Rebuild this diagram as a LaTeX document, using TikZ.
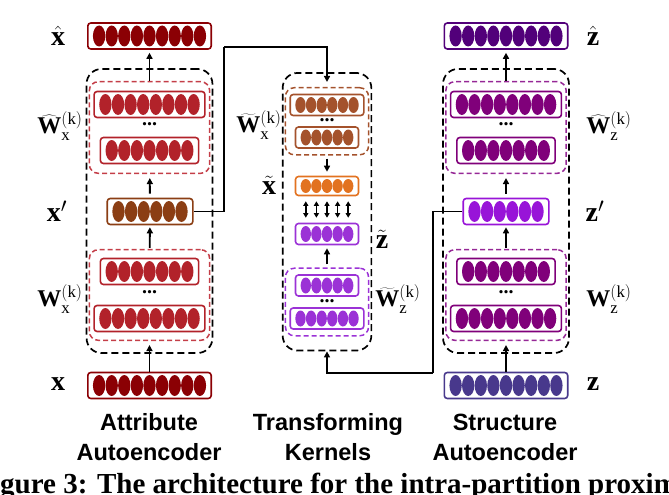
\documentclass[tikz,border=0pt]{standalone}
\usepackage{fontspec}
\setmainfont{Liberation Serif}
\newfontfamily\titlefont{Liberation Sans}
\usetikzlibrary{arrows.meta,calc,fit}

\definecolor{attrio}{RGB}{139,0,4}
\definecolor{attrrow}{RGB}{178,34,42}
\definecolor{attrdash}{RGB}{196,62,72}
\definecolor{attrcode}{RGB}{139,62,20}
\definecolor{kernrow}{RGB}{164,82,44}
\definecolor{kernx}{RGB}{226,114,32}
\definecolor{kernz}{RGB}{155,50,214}
\definecolor{structout}{RGB}{82,0,122}
\definecolor{structrow}{RGB}{128,0,122}
\definecolor{structdash}{RGB}{150,40,150}
\definecolor{structcode}{RGB}{152,20,216}
\definecolor{structin}{RGB}{72,56,140}

% a layer of neurons: name, centre, count, colour, pitch, half height
\newcommand{\layer}[6]{%
  \node[layerbox=#4, minimum width={(#3*#5+10)*1pt}, minimum height={(2*#6+5)*1pt}] (#1) at (#2) {};
  \foreach \i in {1,...,#3}
    \fill[#4] ($(#1.center)+({(\i-(#3+1)/2)*#5},0)$) ellipse [x radius={0.49*#5*1pt}, y radius={#6*1pt}];
}

\begin{document}
\begin{tikzpicture}
[x=1pt,y=-1pt,%
  layerbox/.style={draw=#1,line width=1.6pt,rounded corners=3pt,inner sep=0pt},%
  subdash/.style={draw=#1,dashed,dash pattern=on 5pt off 3pt,line width=1.5pt,rounded corners=9pt,inner xsep=4pt},%
  blockdash/.style={draw,dashed,dash pattern=on 7pt off 4pt,line width=1.7pt,rounded corners=15pt,inner xsep=2pt,inner ysep=12pt},%
  conn/.style={line width=1.8pt,-{Triangle[length=6pt,width=6pt]}},%
  dbl/.style={line width=1.5pt,{Triangle[length=4.5pt,width=5pt]}-{Triangle[length=4.5pt,width=5pt]}},%
  dots/.style={inner sep=0pt,font=\bfseries\fontsize{20}{20}\selectfont},%
  lab/.style={inner sep=0pt,font=\fontsize{28}{30}\selectfont},%
  wlab/.style={inner sep=0pt,font=\fontsize{24}{26}\selectfont},%
  title/.style={inner sep=0pt,align=center,font=\titlefont\bfseries\fontsize{23.5}{30}\selectfont},%
  capt/.style={inner sep=0pt,font=\bfseries\fontsize{29}{32}\selectfont}]
\useasboundingbox (0,0) rectangle (669,495);

% attribute autoencoder
\layer{xhat}{149.5,36}{9}{attrio}{12.6}{10.5}
\layer{xdec1}{149.5,104.5}{8}{attrrow}{12.6}{10.5}
\layer{xdec2}{149.5,150.5}{7}{attrrow}{12.6}{10.5}
\layer{xcode}{150,211.5}{6}{attrcode}{12.6}{10.5}
\layer{xenc1}{149.5,271.5}{7}{attrrow}{12.6}{10.5}
\layer{xenc2}{149.5,318.5}{8}{attrrow}{12.6}{10.5}
\layer{x}{149.5,385.5}{9}{attrio}{12.6}{10.5}
\node[subdash=attrdash,inner ysep=9pt,fit=(xdec1)(xdec2)] (xdecbox) {};
\node[subdash=attrdash,inner ysep=8pt,fit=(xenc1)(xenc2)] (xencbox) {};
\node[blockdash,fit=(xdecbox)(xencbox)] (xbox) {};
\path (xdec1) -- (xdec2) node[dots,midway,yshift=3pt] (xdots) {...};
\path (xenc1) -- (xenc2) node[dots,midway,yshift=3pt] (xdots2) {...};

% transforming kernels
\layer{kdec1}{327,105}{6}{kernrow}{10.6}{8}
\layer{kdec2}{327,137.5}{5}{kernrow}{10.6}{8}
\layer{xtil}{327,186}{5}{kernx}{10.6}{7}
\layer{ztil}{327,234}{5}{kernz}{10.6}{8}
\layer{kenc1}{327,285.5}{5}{kernz}{10.6}{8}
\layer{kenc2}{327,318.5}{6}{kernz}{10.6}{8}
\node[subdash=kernrow,inner ysep=6pt,fit=(kdec1)(kdec2)] (kdecbox) {};
\node[subdash=kernz,inner ysep=6pt,fit=(kenc1)(kenc2)] (kencbox) {};
\node[blockdash,inner ysep=14pt,fit=(kdecbox)(kencbox)] (kbox) {};
\path (kdec1) -- (kdec2) node[dots,midway,yshift=1pt] (kdots) {...};
\path (kenc1) -- (kenc2) node[dots,midway,yshift=1pt] (kdots2) {...};

% structure autoencoder
\layer{zhat}{506,36}{9}{structout}{12.6}{10.5}
\layer{zdec1}{506,104.5}{8}{structrow}{12.6}{10.5}
\layer{zdec2}{506,150.5}{7}{structrow}{12.6}{10.5}
\layer{zcode}{506,211.5}{6}{structcode}{12.6}{10.5}
\layer{zenc1}{506,271.5}{7}{structrow}{12.6}{10.5}
\layer{zenc2}{506,318.5}{8}{structrow}{12.6}{10.5}
\layer{z}{506,385.5}{9}{structin}{12.6}{10.5}
\node[subdash=structdash,inner ysep=9pt,fit=(zdec1)(zdec2)] (zdecbox) {};
\node[subdash=structdash,inner ysep=8pt,fit=(zenc1)(zenc2)] (zencbox) {};
\node[blockdash,fit=(zdecbox)(zencbox)] (zbox) {};
\path (zdec1) -- (zdec2) node[dots,midway,yshift=3pt] (zdots) {...};
\path (zenc1) -- (zenc2) node[dots,midway,yshift=3pt] (zdots2) {...};

% arrows inside the columns
\draw[conn,shorten >=4pt] (x) -- (xencbox);
\draw[conn,shorten <=1pt,shorten >=2pt] (xencbox) -- (xcode);
\draw[conn,shorten <=4pt,shorten >=4pt] (xcode) -- (xdecbox);
\draw[conn,shorten >=3pt] (xdecbox) -- (xhat);
\draw[conn,shorten >=4pt] (z) -- (zencbox);
\draw[conn,shorten <=1pt,shorten >=2pt] (zencbox) -- (zcode);
\draw[conn,shorten <=4pt,shorten >=4pt] (zcode) -- (zdecbox);
\draw[conn,shorten >=3pt] (zdecbox) -- (zhat);
\draw[conn,shorten <=3pt,shorten >=4pt] (kdecbox) -- (xtil);
\draw[conn,shorten <=3pt,shorten >=3pt] (kencbox) -- (ztil);
\foreach \k in {1,...,5}
  \draw[dbl] ($(xtil.south)+({(\k-3)*10.6},5)$) -- ($(ztil.north)+({(\k-3)*10.6},-5)$);

% links between the columns
\coordinate (bendx) at (224,47);
\coordinate (bendz) at (433,373);
\draw[line width=1.8pt] (xcode.east) -| (bendx);
\draw[conn,shorten >=5pt] (bendx) -| (kdecbox.north);
\draw[line width=1.8pt] (zcode.west) -| (bendz);
\draw[conn] (bendz) -| (kbox.south);

% labels
\node[lab] (lxhat) at (58,36) {$\hat{\mathbf{x}}$};
\node[wlab] (lxdec) at (60,126) {$\widehat{\mathbf{W}}_{\mathrm{x}}^{(\mathrm{k})}$};
\node[lab] (lxcode) at (57,211) {$\mathbf{x}'$};
\node[wlab] (lxenc) at (60,299) {$\mathbf{W}_{\mathrm{x}}^{(\mathrm{k})}$};
\node[lab] (lx) at (58,384) {$\mathbf{x}$};
\node[wlab] (lkdec) at (259,125) {$\widetilde{\mathbf{W}}_{\mathrm{x}}^{(\mathrm{k})}$};
\node[lab] (lxtil) at (269,185) {$\tilde{\mathbf{x}}$};
\node[lab] (lztil) at (382,239) {$\tilde{\mathbf{z}}$};
\node[wlab] (lkenc) at (398,299) {$\widetilde{\mathbf{W}}_{\mathrm{z}}^{(\mathrm{k})}$};
\node[lab] (lzhat) at (593,36) {$\hat{\mathbf{z}}$};
\node[wlab] (lzdec) at (609,126) {$\widehat{\mathbf{W}}_{\mathrm{z}}^{(\mathrm{k})}$};
\node[lab] (lzcode) at (595,211) {$\mathbf{z}'$};
\node[wlab] (lzenc) at (609,299) {$\mathbf{W}_{\mathrm{z}}^{(\mathrm{k})}$};
\node[lab] (lz) at (593,384) {$\mathbf{z}$};

\node[title] (tattr) at (149,437) {Attribute\\Autoencoder};
\node[title] (tkern) at (328,437) {Transforming\\Kernels};
\node[title] (tstruct) at (505,437) {Structure\\Autoencoder};
\node[capt,anchor=base west] (cap) at (0,493) {\llap{Fi}gure 3: The architecture for the intra-partition proximity};
\end{tikzpicture}
\end{document}
